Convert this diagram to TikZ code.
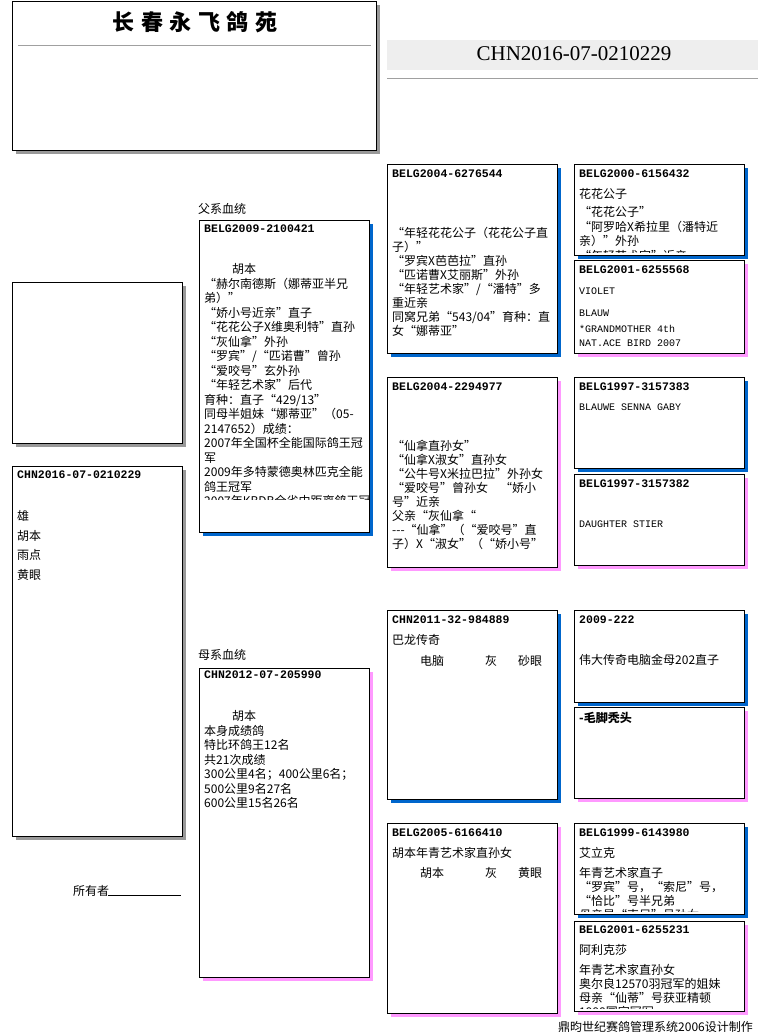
\documentclass[tikz,border=0pt]{standalone}
\usepackage{fontspec}
\setmainfont{Noto Sans CJK SC}
\newfontfamily\idfont{Liberation Mono}
\newfontfamily\hdfont{Liberation Serif}
\definecolor{sblue}{HTML}{0066CC}
\definecolor{spink}{HTML}{FF99FF}
\definecolor{sgray}{HTML}{999999}
\definecolor{hdgray}{HTML}{EEEEEE}
\definecolor{rulegray}{HTML}{A0A0A0}
\newcommand\pbox[5]{%
  \fill[#5] ({#1+4},{#2+4}) rectangle ({#1+#3+4},{#2+#4+4});
  \filldraw[fill=white,draw=black,line width=1pt] (#1,#2) rectangle ({#1+#3},{#2+#4});}
\tikzset{
  idt/.style={anchor=base west,inner sep=0pt,font=\idfont\bfseries\fontsize{11.5}{12}\selectfont},
  lat/.style={anchor=base west,inner sep=0pt,font=\idfont\fontsize{10}{12}\selectfont},
  cjk/.style={anchor=base west,inner sep=0pt,font=\fontsize{12}{14}\selectfont},
  body/.style={anchor=base west,inner sep=0pt,text width=185pt,align=left,font=\fontsize{12}{#1}\selectfont},
  body/.default=14
}
\begin{document}
\begin{tikzpicture}[x=1pt,y=-1pt]
\useasboundingbox (0,0) rectangle (758,1036);
\fill[white] (0,0) rectangle (758,1036);

% title box
\pbox{12}{1}{364}{149}{sgray}
\draw[rulegray,line width=1pt] (18,45) -- (371,45);
\node[inner sep=0pt,font=\bfseries\fontsize{22}{22}\selectfont] (title) at (195,22)
  {长\hspace{6.5pt}春\hspace{6.5pt}永\hspace{6.5pt}飞\hspace{6.5pt}鸽\hspace{6.5pt}苑};

% header
\fill[hdgray] (387,40) rectangle (758,70);
\draw[rulegray,line width=1pt] (387,78) -- (758,78);
\node[inner sep=0pt,font=\hdfont\fontsize{21}{21}\selectfont] (hdr) at (574,54) {CHN2016-07-0210229};

% left boxes
\pbox{12}{282}{170}{161}{sgray}
\pbox{12}{466}{170}{370}{sgray}
\node[idt] (subjid) at (17,478.5) {CHN2016-07-0210229};
\node[body=19.7] (subjtxt) at (17,520.5) {雄\\胡本\\雨点\\黄眼};
\node[cjk] (owner) at (73,895) {所有者};
\draw[line width=1pt] (108,895.5) -- (181,895.5);

% sire
\node[cjk] (sirelab) at (198,213.5) {父系血统};
\pbox{199}{220}{170}{312}{sblue}
\node[idt] (sireid) at (204,232.5) {BELG2009-2100421};
\begin{scope}
\clip (200,221) rectangle (368,499.5);
\node[body=14.5] (siretxt) at (204,273.5) {\hspace*{28pt}胡本\\
“赫尔南德斯（娜蒂亚半兄\\
弟）”\\
“娇小号近亲”直子\\
“花花公子X维奥利特”直孙\\
“灰仙拿”外孙\\
“罗宾”/“匹诺曹”曾孙\\
“爱咬号”玄外孙\\
“年轻艺术家”后代\\
育种：直子“429/13”\\
同母半姐妹“娜蒂亚”（05-\\
2147652）成绩：\\
2007年全国杯全能国际鸽王冠\\
军\\
2009年多特蒙德奥林匹克全能\\
鸽王冠军\\
2007年KBDB全省中距离鸽王冠};
\end{scope}

% dam
\node[cjk] (damlab) at (198,659.5) {母系血统};
\pbox{199}{668}{170}{309}{spink}
\node[idt] (damid) at (204,678.5) {CHN2012-07-205990};
\node[body=14.5] (damtxt) at (204,720.5) {\hspace*{28pt}胡本\\
本身成绩鸽\\
特比环鸽王12名\\
共21次成绩\\
300公里4名；400公里6名；\\
500公里9名27名\\
600公里15名26名};

% sire's sire
\pbox{387}{164}{170}{189}{sblue}
\node[idt] (ssid) at (392,177.5) {BELG2004-6276544};
\node[body=14] (sstxt) at (392,237.5) {“年轻花花公子（花花公子直\\
子）”\\
“罗宾X芭芭拉”直孙\\
“匹诺曹X艾丽斯”外孙\\
“年轻艺术家”/“潘特”多\\
重近亲\\
同窝兄弟“543/04”育种：直\\
女“娜蒂亚”};

% sire's dam
\pbox{387}{377}{170}{190}{spink}
\node[idt] (sdid) at (392,390.5) {BELG2004-2294977};
\node[body=14] (sdtxt) at (392,450.5) {“仙拿直孙女”\\
“仙拿X淑女”直孙女\\
“公牛号X米拉巴拉”外孙女\\
“爱咬号”曾孙女\hspace{12pt}“娇小\\
号”近亲\\
父亲“灰仙拿“\\
-\kern0pt-\kern0pt-“仙拿”（“爱咬号”直\\
子）X“淑女”（“娇小号”};

% dam's sire
\pbox{387}{610}{170}{189}{sblue}
\node[idt] (dsid) at (392,623.5) {CHN2011-32-984889};
\node[cjk] (dsname) at (392,644.5) {巴龙传奇};
\node[cjk] (dsrow) at (392,665.5) {\rlap{\hspace{28pt}电脑}\rlap{\hspace{93pt}灰}\hspace{126pt}砂眼};

% dam's dam
\pbox{387}{823}{170}{190}{spink}
\node[idt] (ddid) at (392,836.5) {BELG2005-6166410};
\node[cjk] (ddname) at (392,857.5) {胡本年青艺术家直孙女};
\node[cjk] (ddrow) at (392,877.5) {\rlap{\hspace{28pt}胡本}\rlap{\hspace{93pt}灰}\hspace{126pt}黄眼};

% great grandparents
\pbox{574}{164}{170}{91}{sblue}
\node[idt] (g1id) at (579,177.5) {BELG2000-6156432};
\node[cjk] (g1name) at (579,198.5) {花花公子};
\begin{scope}
\clip (575,165) rectangle (743,252.5);
\node[body=14.5] (g1txt) at (579,216.5) {“花花公子”\\
“阿罗哈X希拉里（潘特近\\
亲）”外孙\\
“年轻艺术家”近亲};
\end{scope}

\pbox{574}{260}{170}{93}{spink}
\node[idt] (g2id) at (579,273.5) {BELG2001-6255568};
\node[lat] (g2a) at (579,294.5) {VIOLET};
\node[lat] (g2b) at (579,316.5) {BLAUW};
\node[lat] (g2c) at (579,332.5) {*GRANDMOTHER 4th};
\node[lat] (g2d) at (579,346.5) {NAT.ACE BIRD 2007};

\pbox{574}{377}{170}{91}{sblue}
\node[idt] (g3id) at (579,390.5) {BELG1997-3157383};
\node[lat] (g3a) at (579,410.5) {BLAUWE SENNA GABY};

\pbox{574}{474}{170}{91}{spink}
\node[idt] (g4id) at (579,487.5) {BELG1997-3157382};
\node[lat] (g4a) at (579,527.5) {DAUGHTER STIER};

\pbox{574}{610}{170}{92}{sblue}
\node[idt] (g5id) at (579,623.5) {2009-222};
\node[cjk] (g5a) at (579,664.5) {伟大传奇电脑金母202直子};

\pbox{574}{707}{170}{91}{spink}
\node[cjk,font=\bfseries\fontsize{12}{14}\selectfont] (g6a) at (579,722.5) {-毛脚秃头};

\pbox{574}{823}{170}{91}{sblue}
\node[idt] (g7id) at (579,836.5) {BELG1999-6143980};
\node[cjk] (g7name) at (579,857.5) {艾立克};
\begin{scope}
\clip (575,824) rectangle (743,911);
\node[body=14] (g7txt) at (579,877.5) {年青艺术家直子\\
“罗宾”号，“索尼”号，\\
“恰比”号半兄弟\\
母亲是“索尼”号孙女};
\end{scope}

\pbox{574}{921}{170}{90}{spink}
\node[idt] (g8id) at (579,933.5) {BELG2001-6255231};
\node[cjk] (g8name) at (579,954.5) {阿利克莎};
\begin{scope}
\clip (575,922) rectangle (743,1008);
\node[body=14] (g8txt) at (579,974.5) {年青艺术家直孙女\\
奥尔良12570羽冠军的姐妹\\
母亲“仙蒂”号获亚精顿\\
1998国家冠军};
\end{scope}

% footer
\node[cjk] (footer) at (558,1031.5) {鼎昀世纪赛鸽管理系统2006设计制作};
\end{tikzpicture}
\end{document}
